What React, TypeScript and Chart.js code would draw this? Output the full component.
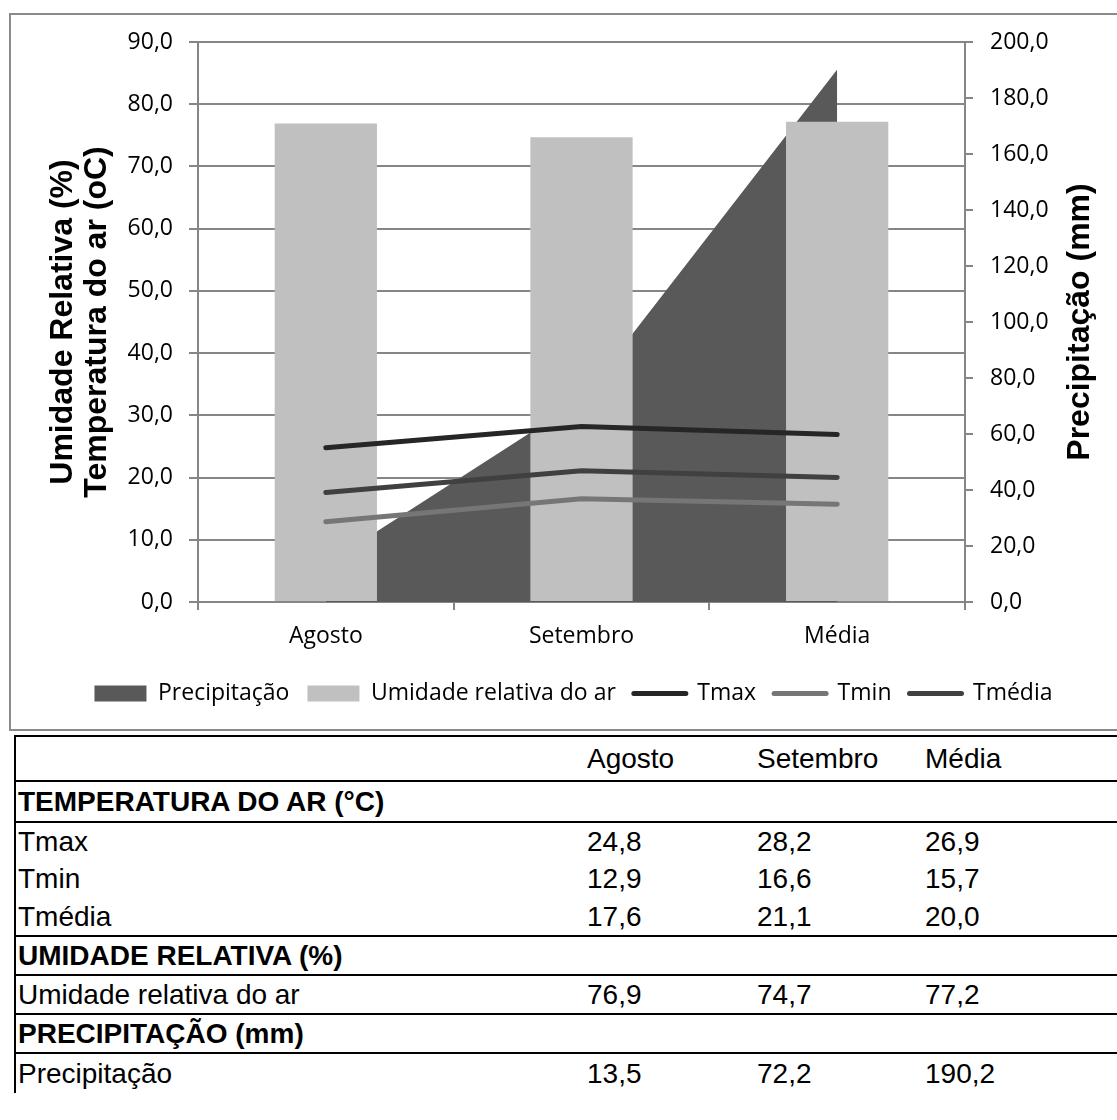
import React, { useEffect, useRef } from 'react';
import { Chart, registerables } from 'chart.js';

Chart.register(...registerables);

// ---- data ----
const categories = ['Agosto', 'Setembro', 'Média'];
const precipitacao = [13.5, 72.2, 190.2];
const umidade = [76.9, 74.7, 77.2];
const tmax = [24.8, 28.2, 26.9];
const tmin = [12.9, 16.6, 15.7];
const tmedia = [17.6, 21.1, 20.0];

const labelPrecip = 'Precipitação';
const labelUmid = 'Umidade relativa do ar';
const labelTmax = 'Tmax';
const labelTmin = 'Tmin';
const labelTmedia = 'Tmédia';

const leftTitleLines = ['Umidade Relativa (%)', 'Temperatura do ar (oC)'];
const rightTitle = 'Precipitação (mm)';

const sectionTemp = 'TEMPERATURA DO AR (°C)';
const sectionUmid = 'UMIDADE RELATIVA (%)';
const sectionPrecip = 'PRECIPITAÇÃO (mm)';

const fmt = (v: number) => Number(v).toFixed(1).replace('.', ',');

// ---- styles ----
const GRID = '#868686';
const tickFont = { family: '"Open Sans", sans-serif', size: 23 };
const tableFont = '"Liberation Sans", Arial, sans-serif';

type Row = { label: string; values?: number[]; bold?: boolean; h: number; border: boolean };

const rows: Row[] = [
  { label: sectionTemp, bold: true, h: 39, border: true },
  { label: labelTmax, values: tmax, h: 37, border: false },
  { label: labelTmin, values: tmin, h: 38, border: false },
  { label: labelTmedia, values: tmedia, h: 37, border: true },
  { label: sectionUmid, bold: true, h: 37, border: true },
  { label: labelUmid, values: umidade, h: 37, border: true },
  { label: sectionPrecip, bold: true, h: 37, border: true },
  { label: labelPrecip, values: precipitacao, h: 39, border: false },
];

export default function App() {
  const ref = useRef<HTMLCanvasElement>(null);

  useEffect(() => {
    if (!ref.current) return;

    const titlePlugin = {
      id: 'axisTitles',
      afterDraw(chart: any) {
        const { ctx, chartArea } = chart;
        const cy = (chartArea.top + chartArea.bottom) / 2;
        ctx.save();
        ctx.fillStyle = '#000';
        ctx.font = 'bold 32px "Liberation Sans", Arial, sans-serif';
        ctx.textAlign = 'center';
        ctx.textBaseline = 'middle';
        leftTitleLines.forEach((t, i) => {
          ctx.save();
          ctx.translate(63 + i * 34, cy);
          ctx.rotate(-Math.PI / 2);
          ctx.fillText(t, 0, 0);
          ctx.restore();
        });
        ctx.save();
        ctx.translate(1080, cy);
        ctx.rotate(-Math.PI / 2);
        ctx.fillText(rightTitle, 0, 0);
        ctx.restore();
        ctx.restore();
      },
    };

    const chart = new Chart(ref.current, {
      type: 'bar',
      data: {
        labels: categories,
        datasets: [
          {
            type: 'line',
            label: labelPrecip,
            data: precipitacao,
            yAxisID: 'y1',
            fill: 'origin',
            backgroundColor: '#595959',
            borderColor: '#595959',
            borderWidth: 0,
            pointRadius: 0,
            tension: 0,
            order: 3,
          } as any,
          {
            type: 'bar',
            label: labelUmid,
            data: umidade,
            yAxisID: 'y',
            backgroundColor: '#c0c0c0',
            borderWidth: 0,
            categoryPercentage: 1,
            barPercentage: 0.4,
            order: 2,
          },
          {
            type: 'line',
            label: labelTmax,
            data: tmax,
            yAxisID: 'y',
            borderColor: '#262626',
            backgroundColor: '#262626',
            borderWidth: 5,
            borderCapStyle: 'round',
            pointRadius: 0,
            fill: false,
            tension: 0,
            order: 1,
          } as any,
          {
            type: 'line',
            label: labelTmin,
            data: tmin,
            yAxisID: 'y',
            borderColor: '#767676',
            backgroundColor: '#767676',
            borderWidth: 5,
            borderCapStyle: 'round',
            pointRadius: 0,
            fill: false,
            tension: 0,
            order: 1,
          } as any,
          {
            type: 'line',
            label: labelTmedia,
            data: tmedia,
            yAxisID: 'y',
            borderColor: '#404040',
            backgroundColor: '#404040',
            borderWidth: 5,
            borderCapStyle: 'round',
            pointRadius: 0,
            fill: false,
            tension: 0,
            order: 1,
          } as any,
        ],
      },
      options: {
        responsive: false,
        animation: false,
        devicePixelRatio: 1,
        layout: { padding: { left: 30, right: 0, top: 42, bottom: 16 } },
        plugins: {
          tooltip: { enabled: false },
          legend: {
            position: 'bottom',
            labels: {
              usePointStyle: true,
              pointStyleWidth: 52,
              boxHeight: 16,
              padding: 18,
              color: '#000',
              font: tickFont,
              generateLabels: (c: any) =>
                c.data.datasets.map((ds: any, i: number) => {
                  const isLine = ds.type === 'line' && !ds.fill;
                  return {
                    text: ds.label,
                    datasetIndex: i,
                    hidden: false,
                    fillStyle: isLine ? ds.borderColor : ds.backgroundColor,
                    strokeStyle: isLine ? ds.borderColor : 'rgba(0,0,0,0)',
                    lineWidth: isLine ? 5 : 0,
                    lineCap: 'round',
                    pointStyle: isLine ? 'line' : 'rect',
                    fontColor: '#000',
                  };
                }),
            },
          },
        },
        scales: {
          x: {
            offset: true,
            grid: { drawOnChartArea: false, tickLength: 8, color: GRID, lineWidth: 2, offset: true },
            border: { display: true, color: GRID, width: 2 },
            ticks: { font: tickFont, color: '#000', padding: 13 },
            afterFit: (s: any) => {
              s.height = 62;
            },
          },
          y: {
            position: 'left',
            min: 0,
            max: 90,
            ticks: { stepSize: 10, font: tickFont, color: '#000', padding: 16, callback: (v: any) => fmt(v) },
            grid: { color: GRID, lineWidth: 2, tickLength: 9 },
            border: { display: true, color: GRID, width: 2 },
            afterFit: (s: any) => {
              s.width = 168;
            },
          },
          y1: {
            position: 'right',
            min: 0,
            max: 200,
            ticks: { stepSize: 20, font: tickFont, color: '#000', padding: 17, callback: (v: any) => fmt(v) },
            grid: { drawOnChartArea: false, color: GRID, lineWidth: 2, tickLength: 8 },
            border: { display: true, color: GRID, width: 2 },
            afterFit: (s: any) => {
              s.width = 152;
            },
          },
        },
      } as any,
      plugins: [titlePlugin],
    });

    return () => chart.destroy();
  }, []);

  const cell = (extra: React.CSSProperties = {}): React.CSSProperties => ({
    padding: '0 0 0 2px',
    verticalAlign: 'middle',
    whiteSpace: 'nowrap',
    lineHeight: 1,
    ...extra,
  });

  return (
    <div
      style={{
        position: 'absolute',
        left: 0,
        top: 0,
        width: 1117,
        height: 1120,
        overflow: 'hidden',
        background: '#fff',
      }}
    >
      <div
        style={{
          position: 'absolute',
          left: 9,
          top: 13,
          width: 1130,
          height: 718,
          boxSizing: 'border-box',
          border: '2px solid #8a8a8a',
        }}
      />
      <canvas
        ref={ref}
        width={1117}
        height={731}
        style={{ position: 'absolute', left: 0, top: 0, width: 1117, height: 731 }}
      />
      <table
        style={{
          position: 'absolute',
          left: 14,
          top: 735,
          width: 1250,
          tableLayout: 'fixed',
          borderCollapse: 'separate',
          borderSpacing: 0,
          borderTop: '2px solid #000',
          borderLeft: '2px solid #000',
          fontFamily: tableFont,
          fontSize: 28,
          color: '#000',
        }}
      >
        <colgroup>
          <col style={{ width: 569 }} />
          <col style={{ width: 170 }} />
          <col style={{ width: 168 }} />
          <col style={{ width: 341 }} />
        </colgroup>
        <tbody>
          <tr>
            <td style={cell({ height: 43, borderBottom: '2px solid #000' })}></td>
            {categories.map((c) => (
              <td key={c} style={cell({ height: 43, borderBottom: '2px solid #000' })}>
                {c}
              </td>
            ))}
          </tr>
          {rows.map((r) => {
            const b = r.border ? { borderBottom: '2px solid #000' } : {};
            return (
              <tr key={r.label + (r.bold ? 's' : 'd')}>
                <td style={cell({ height: r.h, fontWeight: r.bold ? 'bold' : 'normal', ...b })}>{r.label}</td>
                {[0, 1, 2].map((i) => (
                  <td key={i} style={cell({ height: r.h, ...b })}>
                    {r.values ? fmt(r.values[i]) : ''}
                  </td>
                ))}
              </tr>
            );
          })}
        </tbody>
      </table>
    </div>
  );
}
